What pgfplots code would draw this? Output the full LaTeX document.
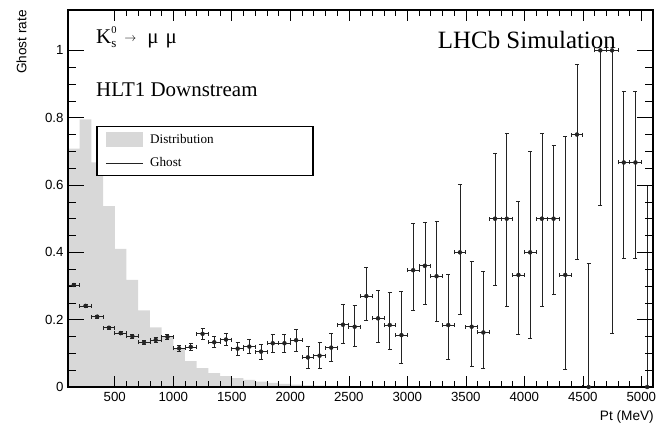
\documentclass[border=0pt]{standalone}
\usepackage{fontspec}
\setmainfont{Liberation Serif}
\newfontfamily\sans{Liberation Sans}
\usepackage{pgfplots}
\pgfplotsset{compat=1.18}
\usepackage{pgfplotstable}

\pgfplotstableread{
x y
100 0.708
200 0.795
300 0.667
400 0.537
500 0.410
600 0.318
700 0.228
800 0.177
900 0.148
1000 0.115
1100 0.077
1200 0.056
1300 0.041
1400 0.032
1500 0.026
1600 0.021
1700 0.016
1800 0.012
1900 0.009
2000 0.007
2100 0.005
2200 0.004
2300 0.003
2400 0.003
2500 0.002
2600 0.002
2700 0.0015
2800 0.0012
2900 0.001
3000 0.001
3100 0.0008
3200 0.0006
3300 0.0005
3400 0.0005
3500 0.0005
}\disttable

\pgfplotstableread{
x y ex eyp eym
150 0.303 50 0.005 0.005
250 0.241 50 0.005 0.005
350 0.209 50 0.005 0.005
450 0.176 50 0.005 0.005
550 0.160 50 0.005 0.005
650 0.151 50 0.005 0.005
750 0.133 50 0.006 0.006
850 0.140 50 0.007 0.007
950 0.149 50 0.008 0.008
1050 0.115 50 0.009 0.009
1150 0.119 50 0.011 0.011
1250 0.158 50 0.015 0.015
1350 0.133 50 0.016 0.016
1450 0.141 50 0.018 0.018
1550 0.114 50 0.019 0.019
1650 0.120 50 0.021 0.021
1750 0.105 50 0.022 0.022
1850 0.130 50 0.027 0.027
1950 0.130 50 0.027 0.027
2050 0.139 50 0.033 0.033
2150 0.088 50 0.033 0.033
2250 0.093 50 0.039 0.039
2350 0.117 50 0.041 0.041
2450 0.185 50 0.060 0.055
2550 0.179 50 0.065 0.058
2650 0.270 50 0.084 0.073
2750 0.204 50 0.084 0.071
2850 0.184 50 0.096 0.072
2950 0.154 50 0.131 0.084
3050 0.347 50 0.139 0.118
3150 0.360 50 0.130 0.114
3250 0.329 50 0.164 0.135
3350 0.184 50 0.150 0.101
3450 0.400 50 0.202 0.183
3550 0.179 50 0.193 0.117
3650 0.162 50 0.183 0.107
3750 0.500 50 0.193 0.197
3850 0.500 50 0.255 0.259
3950 0.333 50 0.220 0.176
4050 0.400 50 0.301 0.256
4150 0.500 50 0.255 0.259
4250 0.500 50 0.218 0.224
4350 0.333 50 0.412 0.280
4450 0.750 50 0.208 0.371
4550 0.000 50 0.367 0.000
4650 1.000 50 0.000 0.460
4750 1.000 50 0.000 0.840
4850 0.667 50 0.211 0.284
4950 0.667 50 0.211 0.284
5050 0.000 50 0.600 0.000
}\ghosttable

\definecolor{histgray}{RGB}{216,216,216}
\definecolor{errgray}{RGB}{35,35,35}

\begin{document}
\begin{tikzpicture}
\path[use as bounding box] (-68bp,-36bp) rectangle (590bp,387bp);
\begin{axis}[
  at={(0,0)}, anchor=south west, scale only axis,
  width=585bp, height=377bp,
  xmin=100, xmax=5100, ymin=0, ymax=1.12,
  axis on top,
  axis line style={line width=1.3bp},
  xtick={500,1000,...,5000}, minor x tick num=4,
  ytick={0,0.2,0.4,0.6,0.8,1}, minor y tick num=3,
  tick align=inside,
  major tick length=16bp, minor tick length=8bp,
  xtick style={/pgfplots/major tick length=11bp, /pgfplots/minor tick length=6bp},
  tick style={line width=0.6bp, black},
  tick label style={font=\sans\fontsize{13.3}{15}\selectfont},
  xticklabel style={yshift=-1.5bp},
  yticklabel style={xshift=-1bp},
  /pgf/number format/assume math mode=true,
  /pgf/number format/1000 sep={},
  scaled x ticks=false,
  xlabel={Pt (MeV)}, ylabel={Ghost rate},
  every axis x label/.style={at={([xshift=1bp,yshift=-33bp]rel axis cs:1,0)}, anchor=base east, inner sep=0pt, font=\sans\fontsize{13.7}{15}\selectfont},
  every axis y label/.style={at={([xshift=-41.5bp]rel axis cs:0,1)}, rotate=90, anchor=base east, inner sep=0pt, font=\sans\fontsize{13.7}{15}\selectfont},
  legend style={at={(rel axis cs:0.04786,0.6923)}, anchor=north west, draw=black, fill=white, line width=1.5bp,
    inner xsep=0bp, inner ysep=1bp, row sep=0bp, column sep=7bp,
    font=\fontsize{13.2}{15}\selectfont,
    nodes={inner sep=0bp}},
  legend cell align=left,
]
\addplot[const plot, fill=histgray, draw=none,
  legend image code/.code={\path[draw=none, fill=none] (0bp,-11.75bp) rectangle (46bp,11.75bp); \path[fill=histgray, draw=none] (9bp,-7.5bp) rectangle (46bp,7.5bp);}]
  table[x=x,y=y]{\disttable} \closedcycle;
\addlegendentry{\makebox[163bp][l]{Distribution}}

\addplot[only marks, mark=none, color=errgray,
  legend image code/.code={\path[draw=none, fill=none] (0bp,-11.75bp) rectangle (46bp,11.75bp); \path[draw=errgray, line width=0.8bp, fill=none] (9bp,0) -- (46bp,0);},
  error bars/.cd, x dir=both, x explicit, y dir=both, y explicit,
  error bar style={line width=0.7bp, errgray},
  error mark options={rotate=90, mark size=2bp, line width=0.7bp, errgray}]
  table[x=x, y=y, x error=ex, y error plus=eyp, y error minus=eym]{\ghosttable};
\addlegendentry{\makebox[163bp][l]{Ghost}}

\node[anchor=base west, inner sep=0pt, font=\fontsize{21}{21}\selectfont] at ([xshift=28bp, yshift=-34bp]rel axis cs:0,1)
  {K\rlap{\raisebox{10.7bp}{\fontsize{10.5}{10.5}\selectfont 0}}\raisebox{-3.7bp}{\fontsize{13}{13}\selectfont s}\hspace{8bp}\raisebox{2bp}{\fontsize{12}{12}\selectfont$\rightarrow$}\hspace{11bp}μ\hspace{7bp}μ};
\node[anchor=base west, inner sep=0pt, font=\fontsize{21}{21}\selectfont] at ([xshift=28bp, yshift=-87bp]rel axis cs:0,1) {HLT1 Downstream};
\node[anchor=base east, inner sep=0pt, font=\fontsize{25}{25}\selectfont] at ([xshift=-37bp, yshift=-39bp]rel axis cs:1,1) {LHCb Simulation};
\end{axis}
\end{tikzpicture}
\end{document}
